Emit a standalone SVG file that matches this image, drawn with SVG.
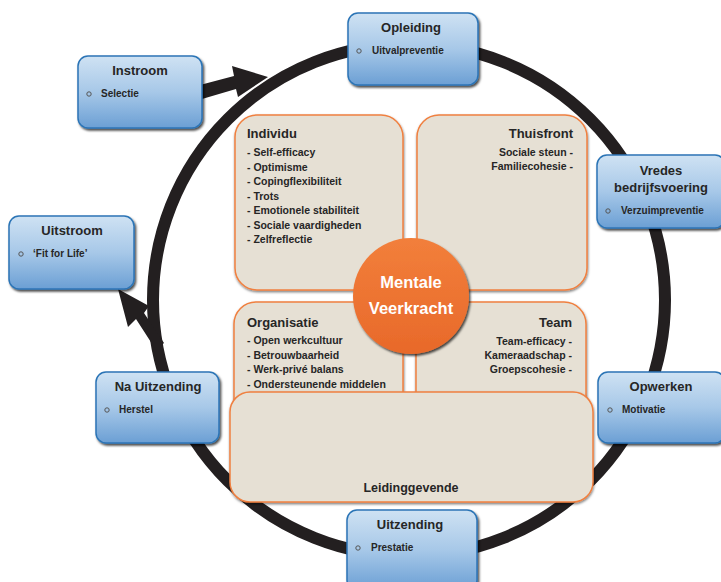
<svg xmlns="http://www.w3.org/2000/svg" width="721" height="582" viewBox="0 0 721 582">
<defs>
  <linearGradient id="blue" x1="0" y1="0" x2="0" y2="1">
    <stop offset="0" stop-color="#cfe2f3"/>
    <stop offset="0.5" stop-color="#a7c8e8"/>
    <stop offset="1" stop-color="#6b9fd4"/>
  </linearGradient>
  <linearGradient id="orange" x1="0" y1="0" x2="0" y2="1">
    <stop offset="0" stop-color="#f27f3b"/>
    <stop offset="1" stop-color="#e8692a"/>
  </linearGradient>
  <filter id="sh" x="-10%" y="-10%" width="125%" height="130%">
    <feDropShadow dx="1.5" dy="2" stdDeviation="1" flood-color="#000" flood-opacity="0.7"/>
  </filter>
  <filter id="sh2" x="-10%" y="-10%" width="125%" height="130%">
    <feDropShadow dx="0.5" dy="1.5" stdDeviation="0.8" flood-color="#000" flood-opacity="0.5"/>
  </filter>
</defs>
<style>
  .blue{fill:url(#blue);stroke:#2c74b6;stroke-width:1.5;filter:url(#sh)}
  .quad{fill:#e6e0d4;stroke:#f08040;stroke-width:1.5;filter:url(#sh2)}
  .t{font-family:"Liberation Sans",Arial,sans-serif;font-weight:bold;fill:#262626}
  .bt{font-size:13px;text-anchor:middle}
  .it{font-size:10px}
  .qt{font-size:13px}
  .qi{font-size:10.5px}
  .r{text-anchor:end}
  .bul{fill:none;stroke:#555;stroke-width:1}
  .ct{font-family:"Liberation Sans",Arial,sans-serif;font-weight:bold;fill:#fff;font-size:16.5px;text-anchor:middle}
</style>

<g id="connectors">
  <circle cx="409" cy="300" r="256" fill="none" stroke="#231f20" stroke-width="12"/>
  <polygon points="200,85 234,76 232,66 268,77 238,97 236,89 202,99" fill="#231f20"/>
  <polygon points="118,289 149,306 144,313 164,343 156,350 136,319 128,327" fill="#231f20"/>
</g>

<g id="individu">
  <rect class="quad" x="235" y="115" width="168" height="175" rx="22"/>
  <text class="t qt" x="247" y="138">Individu</text>
  <text class="t qi" x="247" y="156">- Self-efficacy</text>
  <text class="t qi" x="247" y="171">- Optimisme</text>
  <text class="t qi" x="247" y="185">- Copingflexibiliteit</text>
  <text class="t qi" x="247" y="200">- Trots</text>
  <text class="t qi" x="247" y="214">- Emotionele stabiliteit</text>
  <text class="t qi" x="247" y="229">- Sociale vaardigheden</text>
  <text class="t qi" x="247" y="243">- Zelfreflectie</text>
</g>
<g id="thuisfront">
  <rect class="quad" x="417" y="115" width="170" height="175" rx="22"/>
  <text class="t qt r" x="573" y="138">Thuisfront</text>
  <text class="t qi r" x="573" y="156">Sociale steun -</text>
  <text class="t qi r" x="573" y="170">Familiecohesie -</text>
</g>
<g id="organisatie">
  <rect class="quad" x="234" y="302" width="169" height="150" rx="22"/>
  <text class="t qt" x="247" y="327">Organisatie</text>
  <text class="t qi" x="247" y="344">- Open werkcultuur</text>
  <text class="t qi" x="247" y="359">- Betrouwbaarheid</text>
  <text class="t qi" x="247" y="373">- Werk-privé balans</text>
  <text class="t qi" x="247" y="388">- Ondersteunende middelen</text>
</g>
<g id="team">
  <rect class="quad" x="416" y="302" width="170" height="150" rx="22"/>
  <text class="t qt r" x="572" y="327">Team</text>
  <text class="t qi r" x="572" y="345">Team-efficacy -</text>
  <text class="t qi r" x="572" y="359">Kameraadschap -</text>
  <text class="t qi r" x="572" y="373">Groepscohesie -</text>
</g>
<g id="leidinggevende">
  <rect class="quad" x="230" y="392" width="363" height="110" rx="20"/>
  <text class="t" x="411" y="492" font-size="12.5" text-anchor="middle">Leidinggevende</text>
</g>
<g id="mentale-veerkracht">
  <circle cx="411" cy="296" r="58" fill="url(#orange)" filter="url(#sh)"/>
  <text class="ct" x="411" y="288">Mentale</text>
  <text class="ct" x="411" y="314">Veerkracht</text>
</g>

<g id="instroom">
  <rect class="blue" x="78" y="56" width="124" height="72" rx="10"/>
  <text class="t bt" x="140" y="75">Instroom</text>
  <circle class="bul" cx="89" cy="94" r="2.2"/>
  <text class="t it" x="101" y="97">Selectie</text>
</g>
<g id="uitstroom">
  <rect class="blue" x="9" y="216" width="125" height="73" rx="10"/>
  <text class="t bt" x="72" y="235">Uitstroom</text>
  <circle class="bul" cx="21" cy="254" r="2.2"/>
  <text class="t it" x="33" y="257">‘Fit for Life’</text>
</g>
<g id="opleiding">
  <rect class="blue" x="348" y="13" width="130" height="72" rx="10"/>
  <text class="t bt" x="411" y="32">Opleiding</text>
  <circle class="bul" cx="359" cy="51" r="2.2"/>
  <text class="t it" x="372" y="54">Uitvalpreventie</text>
</g>
<g id="vredes-bedrijfsvoering">
  <rect class="blue" x="597" y="155" width="128" height="73" rx="10"/>
  <text class="t bt" x="661" y="175">Vredes</text>
  <text class="t bt" x="661" y="192">bedrijfsvoering</text>
  <circle class="bul" cx="608" cy="211" r="2.2"/>
  <text class="t it" x="621" y="214">Verzuimpreventie</text>
</g>
<g id="opwerken">
  <rect class="blue" x="598" y="372" width="127" height="71" rx="10"/>
  <text class="t bt" x="661" y="391">Opwerken</text>
  <circle class="bul" cx="610" cy="410" r="2.2"/>
  <text class="t it" x="622" y="413">Motivatie</text>
</g>
<g id="na-uitzending">
  <rect class="blue" x="96" y="372" width="123" height="71" rx="10"/>
  <text class="t bt" x="158" y="391">Na Uitzending</text>
  <circle class="bul" cx="107" cy="410" r="2.2"/>
  <text class="t it" x="119" y="413">Herstel</text>
</g>
<g id="uitzending">
  <rect class="blue" x="347" y="510" width="130" height="80" rx="10"/>
  <text class="t bt" x="410" y="529">Uitzending</text>
  <circle class="bul" cx="358" cy="548" r="2.2"/>
  <text class="t it" x="371" y="551">Prestatie</text>
</g>
</svg>
